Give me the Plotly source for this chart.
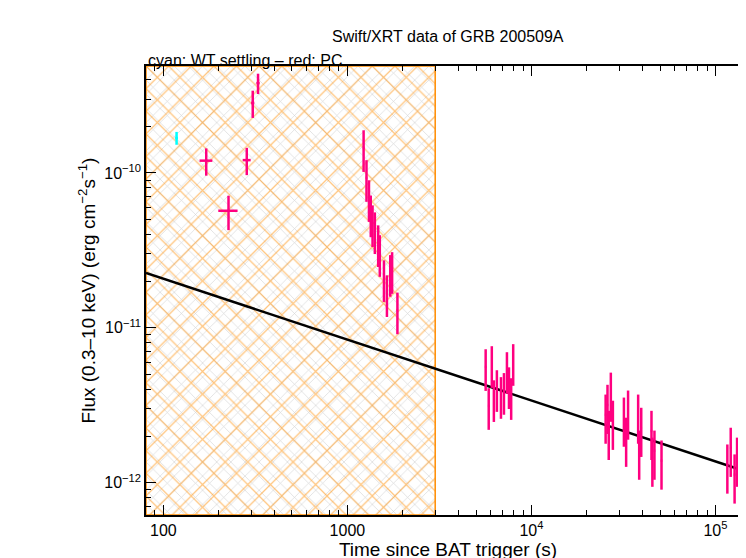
import plotly.graph_objects as go
import numpy as np

wt_t = [118]; wt_f = [1.68e-10]; wt_fe = [0.16e-10]
pc_t = [171, 226, 284, 306, 327,
        1225, 1270, 1310, 1340, 1370, 1410, 1470, 1500, 1580, 1640, 1710, 1750, 1870,
        5640, 6090, 5860, 6250, 6490, 6830, 7090, 7360, 7550, 7760, 7960,
        25300, 25900, 26300, 27000, 27700, 31800, 32700, 33500, 38000, 38500, 39500, 44900, 45400, 46600, 50900,
        116000, 121000, 127000, 131000, 136000, 145000]
pc_f = [1.2e-10, 5.7e-11, 1.21e-10, 2.83e-10, 3.8e-10,
        1.45e-10, 9.3e-11, 6.9e-11, 5.5e-11, 4.75e-11, 4.28e-11, 3.53e-11, 3.05e-11, 2.1e-11, 1.68e-11, 2.27e-11, 2.37e-11, 1.3e-11,
        5.6e-12, 5.86e-12, 3.14e-12, 3.53e-12, 4.1e-12, 3.7e-12, 3.93e-12, 5.36e-12, 4.28e-12, 3.64e-12, 6.04e-12,
        2.75e-12, 3.18e-12, 2.16e-12, 3.81e-12, 2.51e-12, 2.63e-12, 1.95e-12, 2.92e-12, 2.75e-12, 1.61e-12, 2.26e-12, 2.16e-12, 1.45e-12, 1.61e-12, 1.39e-12,
        1.31e-12, 1.68e-12, 1.13e-12, 1.45e-12, 1.61e-12, 1.61e-12]
pc_rel = [0.2, 0.25, 0.2, 0.2, 0.15] + [0.3]*13 + [0.3]*11 + [0.35]*15 + [0.35]*6
pc_xrel = [0.08, 0.12, 0.05, 0.02, 0.02] + [0.01]*13 + [0.01]*11 + [0.01]*15 + [0.01]*6

model_t = [80.5, 154000]
model_f = [2.26e-11, 1.16e-12]
settle_end = 3000
xr = [np.log10(80.5), np.log10(154000)]
yr = [np.log10(6.2e-13), np.log10(4.9e-10)]

fig = go.Figure()
rx = [10**xr[0], settle_end, settle_end, 10**xr[0], 10**xr[0]]
ry = [10**yr[0], 10**yr[0], 10**yr[1], 10**yr[1], 10**yr[0]]
fig.add_trace(go.Scatter(x=rx, y=ry, fill="toself", mode="lines", line=dict(width=0),
    fillcolor="rgba(0,0,0,0)", fillpattern=dict(shape="x", fgcolor="#a8a8a8", size=10, solidity=0.12, bgcolor="white"),
    hoverinfo="skip", showlegend=False))
fig.add_trace(go.Scatter(x=rx, y=ry, fill="toself", mode="lines", line=dict(width=1.5, color="#ff8c00"),
    fillcolor="rgba(0,0,0,0)", fillpattern=dict(shape="x", fgcolor="#ff8c00", size=16, solidity=0.15, bgcolor="rgba(0,0,0,0)"),
    hoverinfo="skip", showlegend=False))
fig.add_trace(go.Scatter(x=model_t, y=model_f, mode="lines", line=dict(color="black", width=2.5), showlegend=False))
fig.add_trace(go.Scatter(x=wt_t, y=wt_f, mode="markers", marker=dict(size=1, color="cyan"),
    error_y=dict(type="data", array=wt_fe, color="cyan", thickness=2.5, width=0),
    error_x=dict(type="data", array=[2], color="cyan", thickness=2.5, width=0), showlegend=False))
pc_f_arr = np.array(pc_f); pc_t_arr = np.array(pc_t)
fig.add_trace(go.Scatter(x=pc_t, y=pc_f, mode="markers", marker=dict(size=1, color="#ff0080"),
    error_y=dict(type="data", array=pc_f_arr*np.array(pc_rel), color="#ff0080", thickness=2.5, width=0),
    error_x=dict(type="data", array=pc_t_arr*np.array(pc_xrel), color="#ff0080", thickness=2.5, width=0), showlegend=False))

font = dict(family="Liberation Sans, Arial", size=16, color="black")
fig.update_layout(width=746, height=558, margin=dict(l=138, r=4, t=58, b=51, autoexpand=False),
    plot_bgcolor="white", paper_bgcolor="white", font=font,
    annotations=[
        dict(text="Swift/XRT data of GRB 200509A", xref="paper", yref="paper", x=0.5, y=1.0, yshift=40, showarrow=False, font=font),
        dict(text="cyan: WT settling – red: PC", xref="paper", yref="paper", x=0, y=1.0, yshift=16, xanchor="left", showarrow=False, font=font)])
fig.update_xaxes(type="log", range=xr, showline=True, linecolor="black", linewidth=1.5, mirror="ticks",
    ticks="inside", ticklen=10, tickcolor="black", showgrid=False, zeroline=False, automargin=False,
    tickvals=[100, 1000, 10000, 100000], ticktext=["100", "1000", "10<sup>4</sup>", "10<sup>5</sup>"],
    minor=dict(ticks="inside", ticklen=5, tickcolor="black", tickvals=[a*10**b for b in range(1, 6) for a in range(2, 10)]),
    title=dict(text="Time since BAT trigger (s)", standoff=0))
fig.update_yaxes(type="log", range=yr, showline=True, linecolor="black", linewidth=1.5, mirror="ticks",
    ticks="inside", ticklen=10, tickcolor="black", showgrid=False, zeroline=False, automargin=False,
    tickvals=[1e-12, 1e-11, 1e-10], ticktext=["10<sup>−12</sup>", "10<sup>−11</sup>", "10<sup>−10</sup>"],
    minor=dict(ticks="inside", ticklen=5, tickcolor="black", tickvals=[a*10**b for b in range(-13, -9) for a in range(2, 10)]),
    title=dict(text="Flux (0.3–10 keV) (erg cm<sup>−2</sup>s<sup>−1</sup>)", standoff=4))
fig.write_html("out.html")
